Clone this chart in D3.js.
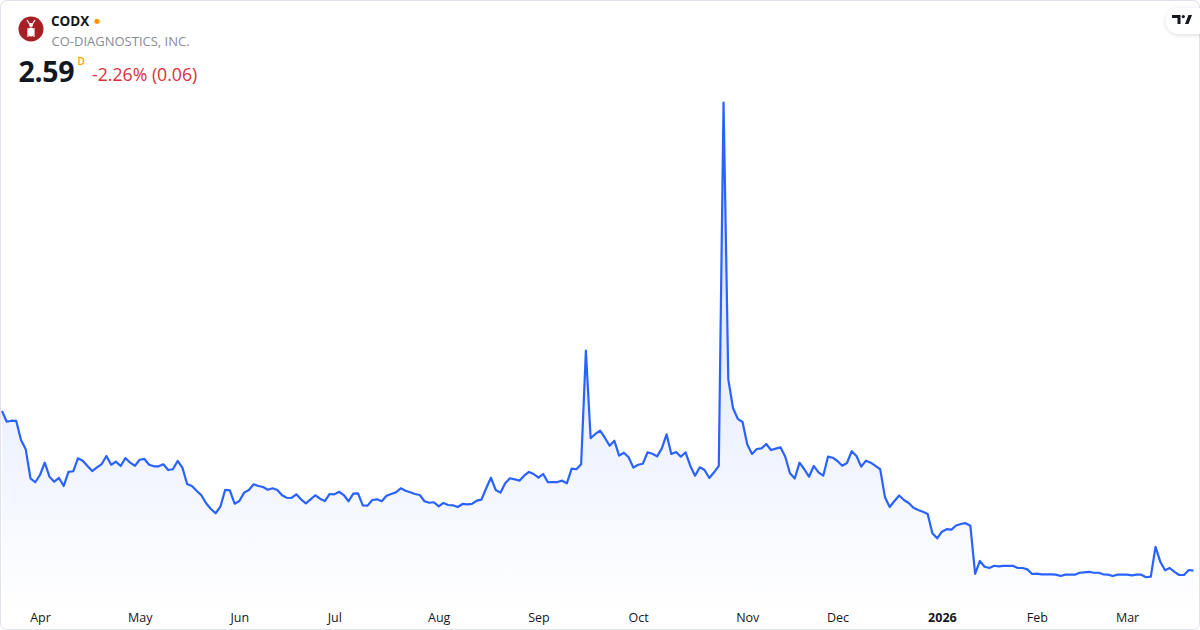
<!DOCTYPE html>
<html>
<head>
<meta charset="utf-8">
<script src="https://cdn.jsdelivr.net/npm/d3@7"></script>
<style>
  html, body { margin: 0; padding: 0; background: #ffffff; }
  svg { display: block; font-family: "Open Sans", "Noto Sans", sans-serif; }
</style>
</head>
<body>
<svg id="chart" width="1200" height="630"></svg>
<script>
// Daily closes (trading-day index 0 = 2025-03-20 ... 251 = 2026-03-20)
const prices = [
  16.71, 15.76, 15.85, 15.83, 14.15, 13.32, 10.76, 10.41, 11.05, 12.14,
  10.90, 10.46, 10.79, 10.08, 11.32, 11.38, 12.53, 12.32, 11.85, 11.40,
  11.73, 12.02, 12.73, 11.96, 12.23, 11.85, 12.55, 12.14, 11.87, 12.40,
  12.47, 11.96, 11.82, 11.82, 12.00, 11.49, 11.56, 12.29, 11.70, 10.26,
  10.08, 9.66, 9.26, 8.55, 8.05, 7.67, 8.25, 9.73, 9.70, 8.51,
  8.75, 9.49, 9.73, 10.23, 10.08, 9.99, 9.75, 9.88, 9.73, 9.26,
  9.04, 9.02, 9.34, 8.90, 8.55, 8.90, 9.26, 8.96, 8.75, 9.37,
  9.34, 9.57, 9.28, 8.73, 9.40, 9.43, 8.37, 8.34, 8.84, 8.90,
  8.73, 9.22, 9.37, 9.52, 9.88, 9.66, 9.52, 9.37, 9.28, 8.73,
  8.60, 8.64, 8.28, 8.58, 8.40, 8.37, 8.22, 8.49, 8.46, 8.49,
  8.78, 8.87, 9.88, 10.81, 9.73, 9.49, 10.32, 10.76, 10.67, 10.55,
  10.99, 11.32, 11.14, 10.81, 11.14, 10.41, 10.43, 10.43, 10.55, 10.32,
  11.61, 11.56, 12.00, 22.04, 14.30, 14.68, 14.97, 14.35, 13.64, 14.08,
  12.76, 13.02, 12.62, 11.70, 11.96, 12.05, 13.06, 12.93, 12.70, 13.41,
  14.65, 12.91, 13.08, 12.67, 13.06, 11.85, 10.99, 11.73, 11.49, 10.79,
  11.29, 11.85, 43.97, 19.51, 16.95, 16.02, 15.74, 13.75, 12.91, 13.35,
  13.41, 13.79, 13.26, 13.38, 13.50, 12.67, 11.20, 10.74, 12.14, 11.56,
  10.90, 11.85, 11.29, 10.99, 12.67, 12.58, 12.29, 11.87, 12.11, 13.15,
  12.73, 11.79, 12.32, 12.14, 11.85, 11.56, 9.09, 8.22, 8.75, 9.24,
  8.84, 8.58, 8.15, 7.96, 7.80, 7.60, 5.90, 5.45, 6.04, 6.26,
  6.22, 6.59, 6.72, 6.79, 6.56, 2.30, 3.45, 2.94, 2.83, 3.03,
  2.98, 3.01, 3.01, 3.01, 2.83, 2.83, 2.71, 2.30, 2.33, 2.27,
  2.27, 2.27, 2.24, 2.12, 2.24, 2.24, 2.24, 2.41, 2.45, 2.48,
  2.41, 2.41, 2.27, 2.24, 2.12, 2.24, 2.24, 2.24, 2.18, 2.24,
  2.24, 2.01, 2.06, 4.69, 3.39, 2.63, 2.83, 2.48, 2.21, 2.21,
  2.65, 2.59
];

// Month tick labels and the trading-day index they sit on
const tickLabels = ["Apr", "May", "Jun", "Jul", "Aug", "Sep", "Oct", "Nov", "Dec", "2026", "Feb", "Mar"];
const tickIndex  = [8, 29, 50, 70, 92, 113, 134, 157, 176, 198, 218, 237];
const boldTicks  = ["2026"];

const symbol = "CODX";
const company = "CO-DIAGNOSTICS, INC.";
const lastPrice = "2.59";
const change = "-2.26% (0.06)";

const W = 1200, H = 630;
const svg = d3.select("#chart");

// card
svg.append("rect")
  .attr("x", 0.5).attr("y", 0.5).attr("width", W - 1).attr("height", H - 1)
  .attr("rx", 6).attr("fill", "#ffffff").attr("stroke", "#e0e3eb");

const x = d3.scaleLinear().domain([0, prices.length - 1]).range([2, 1193.5]);
const y = d3.scaleLinear().domain([0, 45]).range([600, 91]);

const defs = svg.append("defs");
const grad = defs.append("linearGradient")
  .attr("id", "areaGrad").attr("gradientUnits", "userSpaceOnUse")
  .attr("x1", 0).attr("x2", 0).attr("y1", y(d3.max(prices))).attr("y2", 612);
grad.append("stop").attr("offset", "0%").attr("stop-color", "#2962ff").attr("stop-opacity", 0.22);
grad.append("stop").attr("offset", "100%").attr("stop-color", "#2962ff").attr("stop-opacity", 0.0);

const shadow = defs.append("filter").attr("id", "shadow")
  .attr("x", "-40%").attr("y", "-60%").attr("width", "180%").attr("height", "220%");
shadow.append("feDropShadow").attr("dx", 0).attr("dy", 1).attr("stdDeviation", 2)
  .attr("flood-color", "#000").attr("flood-opacity", 0.15);

const idx = d3.range(prices.length);

svg.append("path")
  .datum(idx)
  .attr("fill", "url(#areaGrad)")
  .attr("d", d3.area()
    .x(i => x(i))
    .y0(612)
    .y1(i => y(prices[i])));

svg.append("path")
  .datum(idx)
  .attr("fill", "none")
  .attr("stroke", "#2962ff")
  .attr("stroke-width", 2.2)
  .attr("stroke-linejoin", "round")
  .attr("d", d3.line().x(i => x(i)).y(i => y(prices[i])));

// x axis labels
const axis = d3.axisBottom(x)
  .tickValues(tickIndex)
  .tickSize(0)
  .tickPadding(0)
  .tickFormat((d, k) => tickLabels[k]);
const gAxis = svg.append("g").attr("transform", "translate(0,613)").call(axis);
gAxis.select(".domain").remove();
gAxis.selectAll("text")
  .attr("dy", "0.71em")
  .attr("fill", "#131722")
  .style("font-family", "'Open Sans', sans-serif")
  .style("font-size", "12.5px")
  .style("font-weight", d => boldTicks.includes(tickLabels[tickIndex.indexOf(d)]) ? "700" : "400");

// header
const logo = svg.append("g").attr("transform", "translate(31,29)");
logo.append("circle").attr("r", 12.5).attr("fill", "#a81e25");
logo.append("ellipse").attr("cx", 0).attr("cy", 3).attr("rx", 3).attr("ry", 4.5).attr("fill", "#fff");
logo.append("circle").attr("cx", 0).attr("cy", -4).attr("r", 2).attr("fill", "#fff");
logo.append("path").attr("d", "M-4,-9 L-1.5,-5 M4,-9 L1.5,-5 M-3,8 L-3,-1 M3,8 L3,-1")
  .attr("stroke", "#fff").attr("stroke-width", 1.2).attr("fill", "none");

svg.append("text").attr("x", 51).attr("y", 26)
  .attr("font-size", 13.5).attr("font-weight", 700).attr("fill", "#131722").text(symbol);
svg.append("circle").attr("cx", 97).attr("cy", 21.3).attr("r", 2.6).attr("fill", "#ff9800");
svg.append("text").attr("x", 51.5).attr("y", 45.5)
  .attr("font-size", 13).attr("fill", "#878b94").text(company);

svg.append("text").attr("x", 18.5).attr("y", 81.5)
  .attr("font-size", 28.5).attr("font-weight", 700).attr("fill", "#131722")
  .attr("letter-spacing", "-0.3").text(lastPrice);
svg.append("text").attr("x", 77.5).attr("y", 65)
  .attr("font-size", 10).attr("font-weight", 600).attr("fill", "#ff9800").text("D");
svg.append("text").attr("x", 92).attr("y", 81)
  .attr("font-size", 17.7).attr("fill", "#db2f3c").text(change);

// TradingView badge
const tv = svg.append("g");
tv.append("rect").attr("x", 1166).attr("y", 8).attr("width", 50).attr("height", 26)
  .attr("rx", 13).attr("fill", "#fff").attr("filter", "url(#shadow)");
tv.append("path")
  .attr("d", "M1172,15 H1180.5 V24 H1177.5 V18 H1172 Z M1185,24 L1188.5,15 H1192 L1188.5,24 Z")
  .attr("fill", "#131722");
tv.append("circle").attr("cx", 1183.3).attr("cy", 16.6).attr("r", 1.6).attr("fill", "#131722");
</script>
</body>
</html>
